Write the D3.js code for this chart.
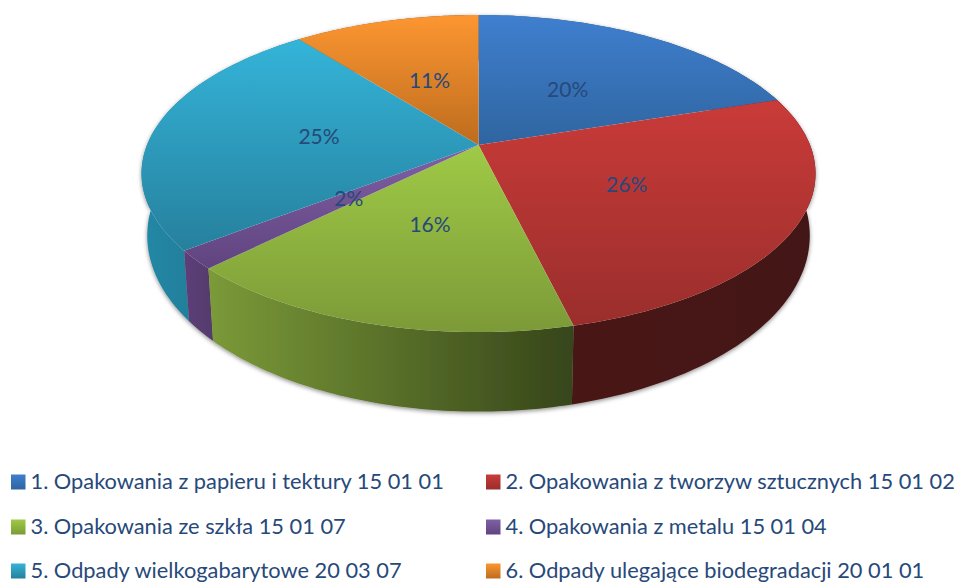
<!DOCTYPE html>
<html><head><meta charset="utf-8">
<script src="https://cdn.jsdelivr.net/npm/d3@7/dist/d3.min.js"></script>
<style>html,body{margin:0;padding:0;background:#fff;overflow:hidden}svg{display:block}text{font-family:Lato,"Open Sans",sans-serif;fill:#27497a}</style>
</head><body><svg id="c" width="959" height="585"></svg>
<script>
const categories=["1. Opakowania z papieru i tektury 15 01 01","2. Opakowania z tworzyw sztucznych 15 01 02","3. Opakowania ze szkła 15 01 07","4. Opakowania z metalu 15 01 04","5. Odpady wielkogabarytowe 20 03 07","6. Odpady ulegające biodegradacji 20 01 01"];
const values=[20,26.2,16.4,1.9,24.9,10.6];
const labels=["20%","26%","16%","2%","25%","11%"];
const topLight=["#3f7fcf","#c93b39","#9fca46","#8060a6","#34b4d9","#fc9631"];
const topDark=["#2f65a0","#9a2e2c","#7c9a38","#60447f","#26809d","#bd6c1e"];
const wallLeft=["#2a5a90","#4a1714","#7b9a38","#5c3f78","#2488a6","#a85f1a"];
const wallRight=["#1d3d60","#431413","#36451a","#563a6c","#1e6b82","#7a4512"];
const legendCols=[11,486],legendRows=[482,527,571];

const svg=d3.select("#c"),defs=svg.append("defs");
const cx=478.5,cy=145,W=331.5,H=153.4,C=-0.18;
// perspective projection of the unit disc; t = clockwise angle from the top
const project=(r,t)=>{const u=r*Math.sin(t),v=-r*Math.cos(t),d=1+C*v;return [cx+u*W/d,cy+v*H/d];};
const lower=([x,y])=>[cx+(x-cx)*0.983,y*1.11+43];
const arcs=d3.pie().sort(null).value(d=>d)(values);
const samples=a=>d3.range(0,61).map(i=>a.startAngle+(a.endAngle-a.startAngle)*i/60);
const line=d3.line();

const f=defs.append("filter").attr("id","sh").attr("x","-5%").attr("y","-5%").attr("width","110%").attr("height","110%");
f.append("feDropShadow").attr("dx",0).attr("dy",1.5).attr("stdDeviation",2).attr("flood-color","#000").attr("flood-opacity",0.45);
arcs.forEach((a,i)=>{
  const g=defs.append("linearGradient").attr("id","t"+i).attr("x1",0).attr("y1",0).attr("x2",0).attr("y2",1);
  g.append("stop").attr("offset",0).attr("stop-color",topLight[i]);
  g.append("stop").attr("offset",1).attr("stop-color",topDark[i]);
  const w=defs.append("linearGradient").attr("id","w"+i).attr("x1",0).attr("y1",0).attr("x2",1).attr("y2",0);
  w.append("stop").attr("offset",0).attr("stop-color",wallLeft[i]);
  w.append("stop").attr("offset",1).attr("stop-color",wallRight[i]);
});
const order=arcs.map((a,i)=>i).sort((p,q)=>d3.mean(samples(arcs[p]),t=>project(1,t)[1])-d3.mean(samples(arcs[q]),t=>project(1,t)[1]));
svg.append("g").attr("filter","url(#sh)").selectAll("path").data(order).join("path")
 .attr("fill",i=>`url(#w${i})`)
 .attr("d",i=>{const up=samples(arcs[i]).map(t=>project(1,t));return line(up.concat(up.slice().reverse().map(lower)))+"Z";});
svg.append("g").selectAll("path").data(arcs).join("path")
 .attr("fill",(a,i)=>`url(#t${i})`)
 .attr("d",a=>line([[cx,cy]].concat(samples(a).map(t=>project(1,t))))+"Z");
svg.append("g").selectAll("text").data(arcs).join("text")
 .attr("text-anchor","middle").attr("dy","0.35em").style("font-size","21px")
 .attr("x",a=>project(0.49,(a.startAngle+a.endAngle)/2)[0])
 .attr("y",a=>project(0.49,(a.startAngle+a.endAngle)/2)[1]+1)
 .text((a,i)=>labels[i]);
const leg=svg.append("g").selectAll("g").data(categories).join("g")
 .attr("transform",(d,i)=>`translate(${legendCols[i%2]},${legendRows[Math.floor(i/2)]})`);
leg.append("rect").attr("y",-7.5).attr("width",14.5).attr("height",15).attr("fill",(d,i)=>`url(#t${i})`);
leg.append("text").attr("x",19.5).attr("y",7).style("font-size","21.8px").text(d=>d);
</script></body></html>
